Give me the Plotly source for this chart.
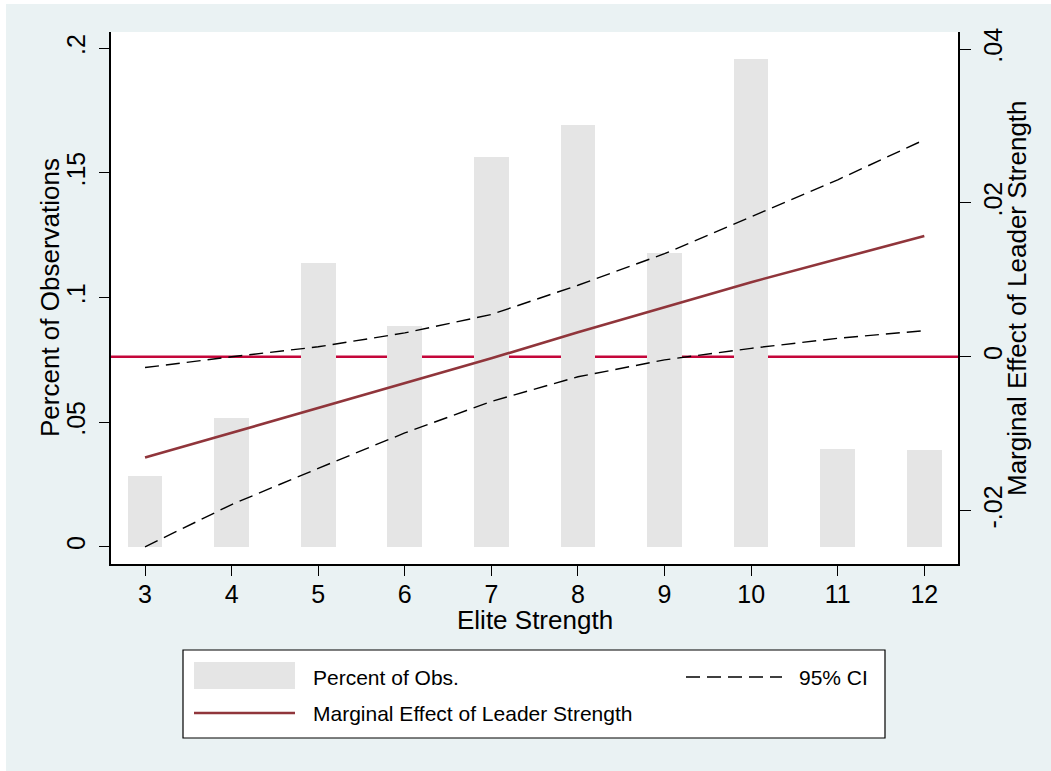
import plotly.graph_objects as go

# ---- data ----
elite_strength = [3, 4, 5, 6, 7, 8, 9, 10, 11, 12]
pct_obs = [0.0284, 0.0518, 0.1140, 0.0886, 0.1563, 0.1692, 0.1177, 0.1958, 0.0392, 0.0388]
marg_effect = [-0.0131, -0.0099, -0.0067, -0.0035, -0.0002, 0.0032, 0.0065, 0.0097, 0.0127, 0.0157]
ci_upper = [-0.0014, 0.0000, 0.0013, 0.0031, 0.0055, 0.0093, 0.0134, 0.0182, 0.0230, 0.0282]
ci_lower = [-0.0247, -0.0192, -0.0145, -0.0099, -0.0058, -0.0026, -0.0004, 0.0011, 0.0024, 0.0034]

left_ticks = [0, 0.05, 0.1, 0.15, 0.2]
left_ticktext = ["0", ".05", ".1", ".15", ".2"]
right_ticks = [-0.02, 0, 0.02, 0.04]
right_ticktext = ["-.02", "0", ".02", ".04"]
grid_ticks = [-0.02, 0.02, 0.04]
zero_ref = 0.0

# ---- styling ----
BG = "#EAF2F3"
BAR = "#E5E5E5"
MAROON = "#90353B"
ZERO_RED = "#C4063A"
FONT = "Liberation Sans, Arial, sans-serif"

W, H = 1051, 771
L, R, T, B = 111, 958, 32, 564  # plot area in px
Y2_RANGE = [-0.02693, 0.04221]


def px(x):
    return (x - L) / (R - L)


def py(y):
    return (B - y) / (B - T)


fig = go.Figure()

fig.add_trace(go.Bar(
    x=elite_strength, y=pct_obs, width=0.4,
    marker=dict(color=BAR, line=dict(width=0)),
    name="Percent of Obs.", yaxis="y", showlegend=False,
))
fig.add_trace(go.Scatter(
    x=elite_strength, y=ci_upper, mode="lines", yaxis="y2",
    line=dict(color="black", width=1.4, dash="14px,7px"), showlegend=False,
))
fig.add_trace(go.Scatter(
    x=elite_strength, y=ci_lower, mode="lines", yaxis="y2",
    line=dict(color="black", width=1.4, dash="14px,7px"), showlegend=False,
))
fig.add_trace(go.Scatter(
    x=elite_strength, y=marg_effect, mode="lines", yaxis="y2",
    line=dict(color=MAROON, width=2.6), showlegend=False,
))

# position of the zero reference on the right axis, as a fraction of the plot height
zero_frac = (zero_ref - Y2_RANGE[0]) / (Y2_RANGE[1] - Y2_RANGE[0])

shapes = []
# zero reference line (beneath bars)
shapes.append(dict(type="line", xref="paper", x0=0, x1=1, yref="paper", y0=zero_frac, y1=zero_frac,
                   line=dict(color=ZERO_RED, width=2.6), layer="below"))
# white border strips at top/left of the page
shapes.append(dict(type="rect", xref="paper", yref="paper", x0=px(-5), x1=px(6),
                   y0=py(H + 5), y1=py(-5), fillcolor="white", line=dict(width=0), layer="above"))
shapes.append(dict(type="rect", xref="paper", yref="paper", x0=px(-5), x1=px(W + 5),
                   y0=py(4), y1=py(-5), fillcolor="white", line=dict(width=0), layer="above"))
# legend box
shapes.append(dict(type="rect", xref="paper", yref="paper", x0=px(183), x1=px(885),
                   y0=py(738), y1=py(650), fillcolor="white",
                   line=dict(color="black", width=1.2), layer="above"))
shapes.append(dict(type="rect", xref="paper", yref="paper", x0=px(194), x1=px(295),
                   y0=py(689), y1=py(662), fillcolor=BAR, line=dict(width=0), layer="above"))
shapes.append(dict(type="line", xref="paper", yref="paper", x0=px(194), x1=px(295),
                   y0=py(713), y1=py(713), line=dict(color=MAROON, width=2.6), layer="above"))
shapes.append(dict(type="line", xref="paper", yref="paper", x0=px(686), x1=px(782),
                   y0=py(677), y1=py(677), line=dict(color="black", width=1.4, dash="14px,7px"),
                   layer="above"))

annotations = [
    dict(text="Percent of Obs.", xref="paper", yref="paper", x=px(311), y=py(677),
         xanchor="left", yanchor="middle", showarrow=False, font=dict(size=21, color="black")),
    dict(text="95% CI", xref="paper", yref="paper", x=px(797), y=py(677),
         xanchor="left", yanchor="middle", showarrow=False, font=dict(size=21, color="black")),
    dict(text="Marginal Effect of Leader Strength", xref="paper", yref="paper", x=px(311), y=py(713),
         xanchor="left", yanchor="middle", showarrow=False, font=dict(size=21, color="black")),
    # axis titles
    dict(text="Percent of Observations", xref="paper", yref="paper", x=px(50), y=0.5,
         xanchor="center", yanchor="middle", textangle=-90, showarrow=False,
         font=dict(size=26, color="black")),
    dict(text="Marginal Effect of Leader Strength", xref="paper", yref="paper", x=px(1017), y=0.5,
         xanchor="center", yanchor="middle", textangle=-90, showarrow=False,
         font=dict(size=26, color="black")),
    dict(text="Elite Strength", xref="paper", yref="paper", x=0.5, y=py(620),
         xanchor="center", yanchor="middle", showarrow=False,
         font=dict(size=26, color="black")),
]

fig.update_layout(
    width=W, height=H,
    margin=dict(l=L, r=W - R, t=T, b=H - B, pad=0),
    paper_bgcolor=BG, plot_bgcolor="white",
    font=dict(family=FONT, color="black", size=25),
    showlegend=False,
    bargap=0,
    shapes=shapes,
    annotations=annotations,
    xaxis=dict(
        range=[2.607, 12.389], tickmode="array", tickvals=elite_strength,
        ticktext=[str(v) for v in elite_strength],
        ticks="outside", ticklen=10, tickwidth=1.3, tickcolor="black",
        showline=True, linecolor="black", linewidth=1.5, showgrid=False, zeroline=False,
        tickfont=dict(size=25), ticklabelstandoff=-3,
        automargin=False,
    ),
    yaxis=dict(
        range=[-0.00694, 0.20654], tickmode="array", tickvals=left_ticks, ticktext=left_ticktext,
        ticks="outside", ticklen=10, tickwidth=1.3, tickcolor="black", tickangle=-90,
        showline=True, linecolor="black", linewidth=1.5, showgrid=False, zeroline=False,
        tickfont=dict(size=25), ticklabelstandoff=4,
        automargin=False,
    ),
    yaxis2=dict(
        range=Y2_RANGE, tickmode="array", tickvals=right_ticks, ticktext=right_ticktext,
        overlaying="y", side="right", anchor="x",
        ticks="outside", ticklen=11, tickwidth=1.3, tickcolor="black", tickangle=-90,
        showline=True, linecolor="black", linewidth=1.5,
        showgrid=False, zeroline=False,
        tickfont=dict(size=25), ticklabelstandoff=1,
        automargin=False,
    ),
    yaxis3=dict(
        range=Y2_RANGE, tickmode="array", tickvals=grid_ticks,
        overlaying="y", side="right", anchor="x",
        showticklabels=False, ticks="", showline=False,
        showgrid=True, gridcolor=BG, gridwidth=1.5, zeroline=False,
        automargin=False,
    ),
)

fig.write_html(
    "out.html",
    config={"displayModeBar": False},
    post_script="document.body.style.margin='0';document.body.style.padding='0';"
                "document.body.style.overflow='hidden';",
)
